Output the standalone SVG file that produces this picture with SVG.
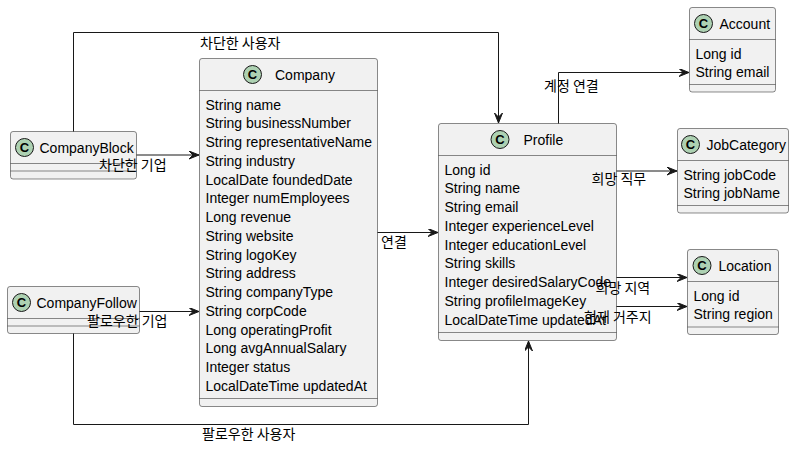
<svg xmlns="http://www.w3.org/2000/svg" width="794" height="449" viewBox="0 0 794 449">
<defs>
<style>
.box{fill:#F1F1F1;stroke:#181818;stroke-width:0.5}
.sep{stroke:#181818;stroke-width:0.5;fill:none}
.spot{fill:#ADD1B2;stroke:#181818;stroke-width:1}
.sc{font-family:"Liberation Sans",Arial,sans-serif;font-size:13px;font-weight:bold;fill:#000;text-anchor:middle}
.t{font-family:"Liberation Sans",Arial,sans-serif;font-size:14px;fill:#000}
.lbl{font-family:"Noto Sans CJK KR","Noto Sans",sans-serif;font-size:14px;fill:#000}
.edge{fill:none;stroke:#181818;stroke-width:1}
</style>
<marker id="arr" markerWidth="12" markerHeight="10" refX="10" refY="4" orient="auto" markerUnits="userSpaceOnUse">
<polygon points="0,0 10,4 0,8 4,4" fill="#181818" stroke="#181818" stroke-width="1"/>
</marker>
</defs>
<rect width="794" height="449" fill="#FFFFFF"/>

<g id="Company">
<rect class="box" x="199.5" y="58.5" width="178" height="348" rx="2.5"/>
<circle class="spot" cx="252.5" cy="74.5" r="9"/>
<text class="sc" x="252.5" y="79">C</text>
<text class="t" x="275" y="79.5">Company</text>
<line class="sep" x1="199.5" y1="90.5" x2="377.5" y2="90.5"/>
<text class="t" x="205.5" y="109.5">String name</text>
<text class="t" x="205.5" y="128.25">String businessNumber</text>
<text class="t" x="205.5" y="147">String representativeName</text>
<text class="t" x="205.5" y="165.75">String industry</text>
<text class="t" x="205.5" y="184.5">LocalDate foundedDate</text>
<text class="t" x="205.5" y="203.25">Integer numEmployees</text>
<text class="t" x="205.5" y="222">Long revenue</text>
<text class="t" x="205.5" y="240.75">String website</text>
<text class="t" x="205.5" y="259.5">String logoKey</text>
<text class="t" x="205.5" y="278.25">String address</text>
<text class="t" x="205.5" y="297">String companyType</text>
<text class="t" x="205.5" y="315.75">String corpCode</text>
<text class="t" x="205.5" y="334.5">Long operatingProfit</text>
<text class="t" x="205.5" y="353.25">Long avgAnnualSalary</text>
<text class="t" x="205.5" y="372">Integer status</text>
<text class="t" x="205.5" y="390.75">LocalDateTime updatedAt</text>
<line class="sep" x1="199.5" y1="398.5" x2="377.5" y2="398.5"/>
</g>

<g id="Profile">
<rect class="box" x="438.5" y="123.5" width="178" height="217" rx="2.5"/>
<circle class="spot" cx="500" cy="139.5" r="9"/>
<text class="sc" x="500" y="144">C</text>
<text class="t" x="523.5" y="144.5">Profile</text>
<line class="sep" x1="438.5" y1="155.5" x2="616.5" y2="155.5"/>
<text class="t" x="444.5" y="174.5">Long id</text>
<text class="t" x="444.5" y="193.25">String name</text>
<text class="t" x="444.5" y="212">String email</text>
<text class="t" x="444.5" y="230.75">Integer experienceLevel</text>
<text class="t" x="444.5" y="249.5">Integer educationLevel</text>
<text class="t" x="444.5" y="268.25">String skills</text>
<text class="t" x="444.5" y="287">Integer desiredSalaryCode</text>
<text class="t" x="444.5" y="305.75">String profileImageKey</text>
<text class="t" x="444.5" y="324.5">LocalDateTime updatedAt</text>
<line class="sep" x1="438.5" y1="332.5" x2="616.5" y2="332.5"/>
</g>

<g id="Account">
<rect class="box" x="689.5" y="7.5" width="86" height="84.5" rx="2.5"/>
<circle class="spot" cx="703.5" cy="23.5" r="9"/>
<text class="sc" x="703.5" y="28">C</text>
<text class="t" x="719.5" y="28.5">Account</text>
<line class="sep" x1="689.5" y1="39.5" x2="775.5" y2="39.5"/>
<text class="t" x="695.5" y="58.5">Long id</text>
<text class="t" x="695.5" y="77.25">String email</text>
<line class="sep" x1="689.5" y1="84.5" x2="775.5" y2="84.5"/>
</g>

<g id="JobCategory">
<rect class="box" x="677.5" y="128.5" width="111" height="84.5" rx="2.5"/>
<circle class="spot" cx="690.5" cy="144.5" r="9"/>
<text class="sc" x="690.5" y="149">C</text>
<text class="t" x="706.5" y="149.5">JobCategory</text>
<line class="sep" x1="677.5" y1="160.5" x2="788.5" y2="160.5"/>
<text class="t" x="683.5" y="179.5">String jobCode</text>
<text class="t" x="683.5" y="198.25">String jobName</text>
<line class="sep" x1="677.5" y1="205.5" x2="788.5" y2="205.5"/>
</g>

<g id="Location">
<rect class="box" x="687.5" y="249.5" width="91" height="85" rx="2.5"/>
<circle class="spot" cx="702" cy="265.5" r="9"/>
<text class="sc" x="702" y="270">C</text>
<text class="t" x="718.5" y="270.5">Location</text>
<line class="sep" x1="687.5" y1="281.5" x2="778.5" y2="281.5"/>
<text class="t" x="693.5" y="300.5">Long id</text>
<text class="t" x="693.5" y="319.25">String region</text>
<line class="sep" x1="687.5" y1="327" x2="778.5" y2="327"/>
</g>

<g id="CompanyBlock">
<rect class="box" x="10.5" y="131.5" width="126" height="47.5" rx="2.5"/>
<circle class="spot" cx="24.5" cy="147.5" r="9"/>
<text class="sc" x="24.5" y="152">C</text>
<text class="t" x="39.5" y="152.5">CompanyBlock</text>
<line class="sep" x1="10.5" y1="163.5" x2="136.5" y2="163.5"/>
<line class="sep" x1="10.5" y1="171" x2="136.5" y2="171"/>
</g>

<g id="CompanyFollow">
<rect class="box" x="7.5" y="286.5" width="132" height="47" rx="2.5"/>
<circle class="spot" cx="21.5" cy="302.5" r="9"/>
<text class="sc" x="21.5" y="307">C</text>
<text class="t" x="36.5" y="307.5">CompanyFollow</text>
<line class="sep" x1="7.5" y1="318.5" x2="139.5" y2="318.5"/>
<line class="sep" x1="7.5" y1="326" x2="139.5" y2="326"/>
</g>

<g id="connectors">
<path class="edge" d="M73.5,131.5 V32.5 H498.5 V123" marker-end="url(#arr)"/>
<path class="edge" d="M136.5,155 H199" marker-end="url(#arr)"/>
<path class="edge" d="M139.5,311.5 H199" marker-end="url(#arr)"/>
<path class="edge" d="M73.5,333.5 V424.5 H528.5 V341" marker-end="url(#arr)"/>
<path class="edge" d="M377.5,232.5 H438" marker-end="url(#arr)"/>
<path class="edge" d="M558.5,123.5 V72.5 H689" marker-end="url(#arr)"/>
<path class="edge" d="M616.5,171 H677" marker-end="url(#arr)"/>
<path class="edge" d="M616.5,277.5 H687" marker-end="url(#arr)"/>
<path class="edge" d="M616.5,306.5 H687" marker-end="url(#arr)"/>
<text class="lbl" x="200" y="48">차단한 사용자</text>
<text class="lbl" x="99" y="170">차단한 기업</text>
<text class="lbl" x="87" y="326">팔로우한 기업</text>
<text class="lbl" x="202" y="439">팔로우한 사용자</text>
<text class="lbl" x="381" y="247">연결</text>
<text class="lbl" x="544" y="91">계정 연결</text>
<text class="lbl" x="591.5" y="184">희망 직무</text>
<text class="lbl" x="595.5" y="293">희망 지역</text>
<text class="lbl" x="584" y="321.5">현재 거주지</text>
</g>
</svg>
